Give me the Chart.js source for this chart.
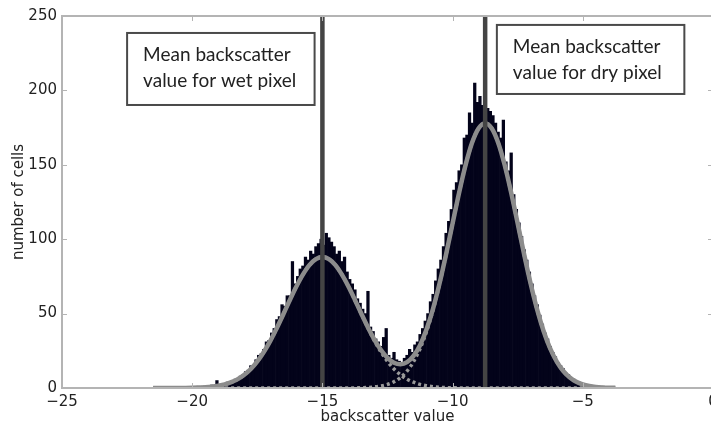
<!DOCTYPE html>
<html>
<head>
<meta charset="utf-8">
<script src="https://cdn.jsdelivr.net/npm/chart.js@4.4.1/dist/chart.umd.min.js"></script>
<style>
  html, body { margin: 0; padding: 0; background: #fff; overflow: hidden; }
  #wrap { width: 725px; height: 427px; }
</style>
</head>
<body>
<div id="wrap"><canvas id="histChart" width="725" height="427"></canvas></div>
<script>
// histogram: bin width 0.1, first bin centre at -21.35
const binStart = -21.35;
const binWidth = 0.1;
const cellCounts = [
  0, 0, 1, 0, 0, 0, 1, 0, 0, 0,
  1, 0, 0, 1, 0, 1, 0, 1, 0, 1,
  1, 2, 1, 5, 1, 3, 2, 4, 3, 5,
  6, 6, 8, 9, 11, 12, 15, 14, 19, 22,
  23, 26, 31, 32, 37, 40, 46, 48, 56, 55,
  62, 62, 85, 70, 75, 80, 82, 88, 86, 92,
  90, 95, 97, 100, 96, 104, 101, 98, 95, 90,
  92, 85, 88, 78, 73, 70, 66, 60, 57, 53,
  50, 65, 41, 38, 33, 31, 28, 34, 40, 22,
  20, 24, 19, 18, 16, 20, 22, 26, 24, 29,
  31, 36, 40, 45, 50, 58, 63, 72, 80, 86,
  95, 104, 112, 120, 133, 138, 146, 150, 168, 170,
  185, 178, 205, 192, 196, 190, 194, 188, 186, 183,
  178, 172, 168, 180, 152, 146, 158, 130, 120, 111,
  102, 93, 86, 78, 70, 62, 56, 49, 43, 37,
  33, 28, 24, 21, 17, 15, 13, 10, 9, 7,
  6, 5, 4, 3, 3, 2, 1, 1, 1, 0,
  1, 0, 0, 1, 0, 0
];

// fitted curves, sampled every 0.25 from -21.5 to -3.75
const fitStart = -21.5;
const fitStep = 0.25;
const wetFit = [
  0, 0, 0.01, 0.02, 0.04, 0.08, 0.15, 0.28, 0.5, 0.88,
  1.5, 2.4, 3.9, 5.95, 8.9, 12.8, 17.9, 24.2, 31.7, 40.3,
  49.6, 59.1, 68.2, 76.2, 82.6, 86.6, 88, 86.6, 82.6, 76.2,
  68.2, 59.1, 49.6, 40.3, 31.7, 24.2, 17.9, 12.8, 8.9, 5.95,
  3.9, 2.4, 1.5, 0.88, 0.5, 0.28, 0.15, 0.08, 0.04, 0.02,
  0.01, 0, 0, 0, 0, 0, 0, 0, 0, 0,
  0, 0, 0, 0, 0, 0, 0, 0, 0, 0,
  0, 0
];
const dryFit = [
  0, 0, 0, 0, 0, 0, 0, 0, 0, 0,
  0, 0, 0, 0, 0, 0, 0, 0, 0, 0,
  0, 0, 0, 0, 0, 0, 0, 0, 0, 0,
  0.04, 0.09, 0.18, 0.37, 0.72, 1.35, 2.4, 4.2, 7.1, 11.4,
  17.7, 26.4, 38.0, 52.5, 69.9, 89.6, 110.5, 131.2, 149.9, 164.9,
  174.6, 178, 174.6, 164.9, 149.9, 131.2, 110.5, 89.6, 69.9, 52.5,
  38.0, 26.4, 17.7, 11.4, 7.1, 4.2, 2.4, 1.35, 0.72, 0.37,
  0.18, 0.09
];
const totalFit = [
  0, 0, 0.01, 0.02, 0.04, 0.08, 0.15, 0.28, 0.5, 0.88,
  1.5, 2.4, 3.9, 5.95, 8.9, 12.8, 17.9, 24.2, 31.7, 40.3,
  49.6, 59.1, 68.2, 76.2, 82.6, 86.6, 88, 86.6, 82.6, 76.2,
  68.24, 59.19, 49.78, 40.67, 32.42, 25.55, 20.3, 17.0, 16.0, 17.35,
  21.6, 28.8, 39.5, 53.38, 70.4, 89.88, 110.65, 131.28, 149.94, 164.92,
  174.61, 178, 174.6, 164.9, 149.9, 131.2, 110.5, 89.6, 69.9, 52.5,
  38.0, 26.4, 17.7, 11.4, 7.1, 4.2, 2.4, 1.35, 0.72, 0.37,
  0.18, 0.09
];

const meanWet = -15;
const meanDry = -8.75;

const xTicks = [-25, -20, -15, -10, -5, 0];
const yTicks = [0, 50, 100, 150, 200, 250];

const wetLabel = ['Mean backscatter', 'value for wet pixel'];
const dryLabel = ['Mean backscatter', 'value for dry pixel'];

Chart.defaults.font.family = "'DejaVu Sans', sans-serif";
Chart.defaults.color = '#222';

const bins = cellCounts.map((c, i) => ({ x: binStart + i * binWidth, y: c }));
const curve = arr => arr.map((v, i) => ({ x: fitStart + i * fitStep, y: v }));
const minus = v => (v < 0 ? '\u2212' + Math.abs(v) : String(v));

// frame round the plot plus matplotlib style inward ticks
const framePlugin = {
  id: 'frame',
  afterDatasetsDraw(chart) {
    const { ctx, chartArea: a, scales: { x, y } } = chart;
    ctx.save();
    ctx.strokeStyle = '#b4b4b4';
    ctx.lineWidth = 2;
    ctx.strokeRect(a.left, a.top, a.right - a.left, a.bottom - a.top);
    ctx.lineWidth = 1;
    ctx.beginPath();
    xTicks.forEach(v => {
      const px = Math.round(x.getPixelForValue(v)) + 0.5;
      ctx.moveTo(px, a.bottom); ctx.lineTo(px, a.bottom - 5);
      ctx.moveTo(px, a.top); ctx.lineTo(px, a.top + 5);
    });
    yTicks.forEach(v => {
      const py = Math.round(y.getPixelForValue(v)) + 0.5;
      ctx.moveTo(a.left, py); ctx.lineTo(a.left + 5, py);
      ctx.moveTo(a.right, py); ctx.lineTo(a.right - 5, py);
    });
    ctx.stroke();
    ctx.restore();
  }
};

// the two text boxes, placed in data units
const notes = [
  { lines: wetLabel, x0: -22.5, x1: -15.3, y0: 238.6, y1: 190.2 },
  { lines: dryLabel, x0: -8.3, x1: -1.1, y0: 244, y1: 197.6 }
];
const notePlugin = {
  id: 'notes',
  afterDraw(chart) {
    const { ctx, scales: { x, y } } = chart;
    ctx.save();
    notes.forEach(n => {
      const l = x.getPixelForValue(n.x0), r = x.getPixelForValue(n.x1);
      const t = y.getPixelForValue(n.y0), b = y.getPixelForValue(n.y1);
      ctx.fillStyle = '#fff';
      ctx.fillRect(l, t, r - l, b - t);
      ctx.strokeStyle = '#4a4a4a';
      ctx.lineWidth = 2;
      ctx.strokeRect(l, t, r - l, b - t);
      ctx.fillStyle = '#222';
      ctx.font = "19px Lato, 'Open Sans', sans-serif";
      ctx.textBaseline = 'alphabetic';
      n.lines.forEach((s, k) => ctx.fillText(s, l + 16, t + 28 + k * 26));
    });
    ctx.restore();
  }
};

const ctx = document.getElementById('histChart').getContext('2d');

const myChart = new Chart(ctx, {
  type: 'bar',
  data: {
    datasets: [
      {
        type: 'line',
        data: [{ x: meanWet, y: 0 }, { x: meanWet, y: 250 }],
        borderColor: '#444',
        borderWidth: 4.5,
        pointRadius: 0,
        order: 0
      },
      {
        type: 'line',
        data: [{ x: meanDry, y: 0 }, { x: meanDry, y: 250 }],
        borderColor: '#444',
        borderWidth: 4.5,
        pointRadius: 0,
        order: 0
      },
      {
        type: 'line',
        data: curve(totalFit),
        borderColor: '#8c8c8c',
        borderWidth: 4.5,
        pointRadius: 0,
        cubicInterpolationMode: 'monotone',
        order: 1
      },
      {
        type: 'line',
        data: curve(wetFit),
        borderColor: '#9a9a9a',
        borderWidth: 3.5,
        borderDash: [3, 3],
        pointRadius: 0,
        cubicInterpolationMode: 'monotone',
        order: 2
      },
      {
        type: 'line',
        data: curve(dryFit),
        borderColor: '#9a9a9a',
        borderWidth: 3.5,
        borderDash: [3, 3],
        pointRadius: 0,
        cubicInterpolationMode: 'monotone',
        order: 2
      },
      {
        data: bins,
        backgroundColor: '#03031a',
        borderWidth: 0,
        barPercentage: 1,
        categoryPercentage: 1,
        order: 3
      }
    ]
  },
  options: {
    responsive: false,
    animation: false,
    layout: { padding: { left: 0, right: 12, top: 16, bottom: 0 } },
    plugins: {
      legend: { display: false },
      tooltip: { enabled: false }
    },
    scales: {
      x: {
        type: 'linear',
        offset: false,
        min: -25,
        max: 0,
        grid: { display: false, drawTicks: false, offset: false },
        border: { display: false },
        afterBuildTicks: axis => { axis.ticks = xTicks.map(v => ({ value: v })); },
        afterFit: axis => { axis.height = 39; },
        ticks: { font: { size: 15 }, padding: 5, maxRotation: 0, autoSkip: false, callback: v => minus(v) },
        title: { display: true, text: 'backscatter value', font: { size: 15 }, padding: { top: 0, bottom: 1 } }
      },
      y: {
        min: 0,
        max: 250,
        grid: { display: false, drawTicks: false },
        border: { display: false },
        afterBuildTicks: axis => { axis.ticks = yTicks.map(v => ({ value: v })); },
        afterFit: axis => { axis.width = 62; },
        ticks: { font: { size: 15 }, padding: 5, autoSkip: false, callback: v => minus(v) },
        title: { display: true, text: 'number of cells', font: { size: 15 }, padding: { top: 10, bottom: 0 } }
      }
    }
  },
  plugins: [framePlugin, notePlugin]
});
</script>
</body>
</html>
